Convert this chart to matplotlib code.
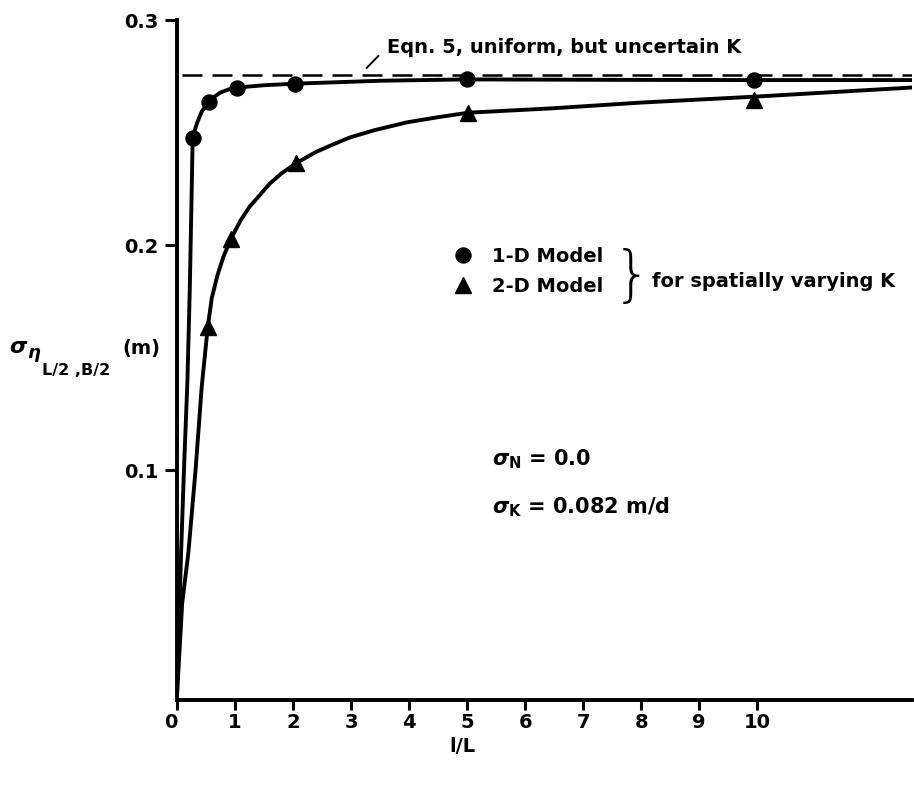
import matplotlib
matplotlib.use('Agg')
import matplotlib.pyplot as plt
import matplotlib.transforms as mtransforms

W, H = 914, 786
plt.rcParams['font.family'] = ['DejaVu Sans']
plt.rcParams['font.weight'] = 'bold'
plt.rcParams['mathtext.fontset'] = 'custom'
plt.rcParams['mathtext.rm'] = 'DejaVu Sans:bold'
plt.rcParams['mathtext.it'] = 'DejaVu Sans:italic:bold'
plt.rcParams['mathtext.bf'] = 'DejaVu Sans:bold'

# ---------------- data ----------------
x_ticks = [0, 1, 2, 3, 4, 5, 6, 7, 8, 9, 10]
x_tick_labels = ['0', '1', '2', '3', '4', '5', '6', '7', '8', '9', '10']
y_ticks = [0.1, 0.2, 0.3]
y_tick_labels = ['0.1', '0.2', '0.3']

# 1-D model points
circ_x = [0.27, 0.56, 1.04, 2.03, 5.0, 9.94]
circ_y = [0.2474, 0.2635, 0.2700, 0.2717, 0.2736, 0.2735]
# 2-D model points
tri_x = [0.53, 0.93, 2.05, 5.02, 9.94]
tri_y = [0.1635, 0.2028, 0.2363, 0.2585, 0.2644]

# hand-drawn curves
curve1_x = [0.0, 0.07, 0.12, 0.18, 0.22, 0.25, 0.27, 0.30, 0.35, 0.43, 0.56,
            0.65, 0.75, 0.90, 1.04, 1.5, 2.03, 3.5, 5.0, 7.5, 9.94, 12.67]
curve1_y = [0.0, 0.063, 0.100, 0.140, 0.180, 0.220, 0.2474, 0.2505, 0.2545,
            0.2595, 0.2635, 0.2660, 0.2678, 0.2692, 0.2700, 0.2710, 0.2717,
            0.2730, 0.2736, 0.2734, 0.2733, 0.2733]
curve2_x = [0.0, 0.09, 0.195, 0.32, 0.426, 0.53, 0.60, 0.70, 0.80, 0.93, 1.10,
            1.25, 1.37, 1.60, 1.80, 2.05, 2.40, 2.70, 2.98, 3.40, 3.96, 4.50,
            5.02, 6.44, 8.0, 9.94, 12.67]
curve2_y = [0.0, 0.041, 0.063, 0.100, 0.137, 0.1635, 0.1765, 0.1868, 0.1948,
            0.2028, 0.2111, 0.2170, 0.2205, 0.2273, 0.2318, 0.2363, 0.2414,
            0.2448, 0.2478, 0.2510, 0.2545, 0.2568, 0.2588, 0.2607, 0.2633,
            0.2659, 0.2700]

eqn5_level = 0.2756
x_max = 12.67
y_min = -0.00222
y_max = 0.3

# ---------------- figure ----------------
fig = plt.figure(figsize=(W / 100, H / 100), dpi=100)
ax = fig.add_axes([177 / W, 1 - 700 / H, 735 / W, 680 / H])

ax.plot(curve1_x, curve1_y, color='black', lw=2.8, solid_capstyle='round',
        solid_joinstyle='round', zorder=3)
ax.plot(curve2_x, curve2_y, color='black', lw=2.8, solid_capstyle='round',
        solid_joinstyle='round', zorder=3)
ax.plot([0.08, x_max], [eqn5_level, eqn5_level], color='black', lw=1.8,
        dashes=(8, 4), zorder=2)

h1, = ax.plot(circ_x, circ_y, 'o', color='black', ms=10.8, ls='none',
              zorder=4, label='1-D Model')
h2, = ax.plot(tri_x, tri_y, '^', color='black', ms=11.5, ls='none',
              zorder=4, label='2-D Model')

# leader line of the annotation
ax.plot([3.27, 3.47], [0.2787, 0.2840], color='black', lw=1.4, zorder=3)

ax.set_xlim(0, x_max)
ax.set_ylim(y_min, y_max)
ax.set_xticks(x_ticks)
ax.set_xticklabels(x_tick_labels)
ax.set_yticks(y_ticks)
ax.set_yticklabels(y_tick_labels)
for s in ['top', 'right']:
    ax.spines[s].set_visible(False)
for s in ['left', 'bottom']:
    ax.spines[s].set_linewidth(2.8)
ax.tick_params(axis='x', direction='out', length=7.5, width=2.2, labelsize=14, pad=2)
ax.tick_params(axis='y', direction='out', length=8.5, width=2.2, labelsize=14, pad=5)
for lab in ax.get_xticklabels() + ax.get_yticklabels():
    lab.set_fontweight('bold')
# the "0" label sits slightly left of the origin in the reference
first = ax.get_xticklabels()[0]
first.set_transform(first.get_transform() +
                    mtransforms.ScaledTranslation(-6 / 100, 0, fig.dpi_scale_trans))


def ft(px, py, s, **kw):
    fig.text(px / W, 1 - py / H, s, **kw)


# annotation text
ft(387, 53, 'Eqn. 5, uniform, but uncertain K', fontsize=14, va='baseline',
   ha='left', fontweight='bold')

# legend
fig.legend(handles=[h1, h2], loc='upper left',
           bbox_to_anchor=(453 / W, 1 - 246.7 / H), bbox_transform=fig.transFigure,
           frameon=False, handlelength=1.0, handletextpad=1.0,
           labelspacing=0.56, borderpad=0, borderaxespad=0,
           prop={'weight': 'bold', 'size': 14})
ft(632, 277, '}', fontsize=44, va='center', ha='center', fontweight=200,
   family=['DejaVu Sans'])
ft(652, 287, 'for spatially varying K', fontsize=14, va='baseline', ha='left',
   fontweight='bold')

# parameters
ft(492, 465, r'$\sigma_{\mathrm{N}}$ = 0.0', fontsize=15, va='baseline', ha='left',
   fontweight='bold')
ft(492, 513, r'$\sigma_{\mathrm{K}}$ = 0.082 m/d', fontsize=15, va='baseline',
   ha='left', fontweight='bold')

# y label pieces
ft(9, 353, 'σ', fontsize=16, fontstyle='italic', fontweight='bold', va='baseline')
ft(27, 358, 'η', fontsize=13, fontstyle='italic', fontweight='bold', va='baseline')
ft(42, 375, 'L/2 ,B/2', fontsize=11.5, fontweight='bold', va='baseline')
ft(122, 354, '(m)', fontsize=14, fontweight='bold', va='baseline')

# x label
ft(462, 746, 'l/L', fontsize=14, fontweight='bold', va='center', ha='center')

fig.savefig('out.png', dpi=100)
